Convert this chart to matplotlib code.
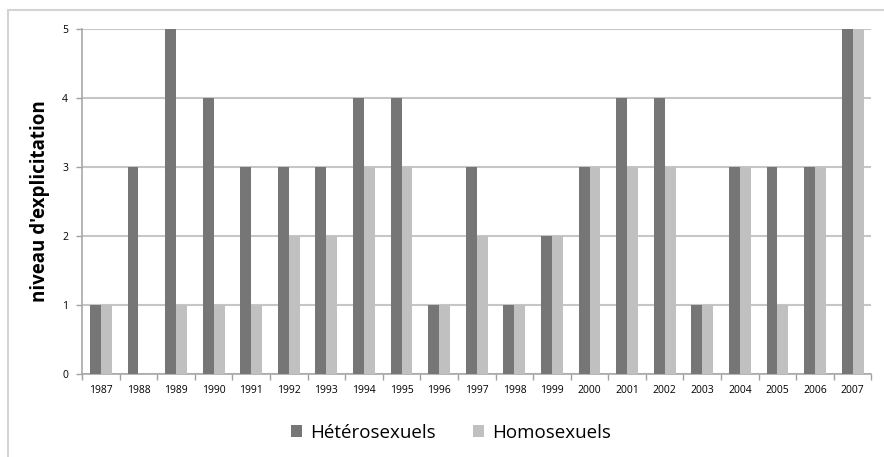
import matplotlib.pyplot as plt
import numpy as np
from matplotlib.patches import Rectangle

plt.rcParams['font.family'] = ['Open Sans', 'DejaVu Sans']

years = [str(y) for y in range(1987, 2008)]
hetero = [1, 3, 5, 4, 3, 3, 3, 4, 4, 1, 3, 1, 2, 3, 4, 4, 1, 3, 3, 3, 5]
homo = [1, 0, 1, 1, 1, 2, 2, 3, 3, 1, 2, 1, 2, 3, 3, 3, 1, 3, 1, 3, 5]

dark = '#767676'
light = '#c0c0c0'
grid_c = '#c6c6c6'

fig = plt.figure(figsize=(8.84, 4.57), dpi=100)

# outer chart frame
fig.patches.append(Rectangle((0.009, -0.05), 1.1, 1.028, transform=fig.transFigure,
                             fill=False, ec='#d4d4d4', lw=1.5))

ax = fig.add_axes([0.0928, 0.1816, 0.893, 0.755])
x = np.arange(len(years))
w = 0.29
ax.bar(x - w / 2, hetero, w, color=dark, label='Hétérosexuels', zorder=3)
ax.bar(x + w / 2, homo, w, color=light, label='Homosexuels', zorder=3)

ax.set_xlim(-0.5, len(years) - 0.5)
ax.set_ylim(0, 5)
ax.set_yticks(range(6))
ax.yaxis.grid(True, color=grid_c, lw=1.5, zorder=0)
ax.set_axisbelow(True)

ax.set_xticks(x)
ax.set_xticklabels(years, fontsize=7.5)
ax.set_xticks(np.arange(-0.5, len(years)), minor=True)
ax.tick_params(axis='x', which='major', length=0, pad=8)
ax.tick_params(axis='x', which='minor', length=4, color='#a0a0a0', width=1)
ax.tick_params(axis='y', labelsize=7.5, length=4, color='#a0a0a0', width=1, pad=6)

for s in ['top', 'right']:
    ax.spines[s].set_visible(False)
for s in ['left', 'bottom']:
    ax.spines[s].set_color('#a8a8a8')
    ax.spines[s].set_linewidth(1.2)

ax.set_ylabel("niveau d'explicitation", fontsize=13.5, fontweight='bold', labelpad=9)

fig.legend(loc='center', bbox_to_anchor=(0.51, 0.053), ncol=2, frameon=False,
           fontsize=13.5, handlelength=0.6, handleheight=0.6, columnspacing=2.0,
           handletextpad=0.4)

plt.savefig('out.png', dpi=100)
